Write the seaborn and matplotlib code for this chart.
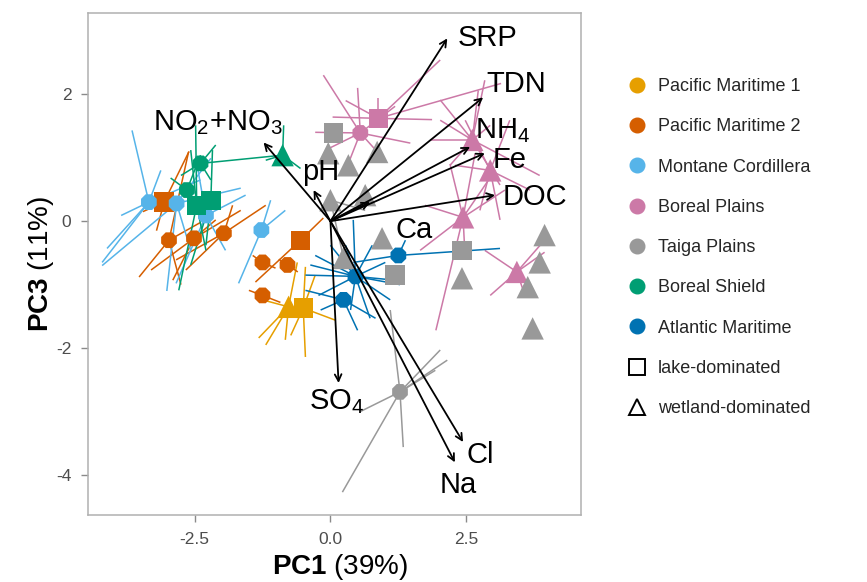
import matplotlib
matplotlib.use("Agg")
import matplotlib.pyplot as plt
import pandas as pd
import seaborn as sns
from matplotlib.lines import Line2D

# ---------------- data ----------------
zone_codes = ["PM1", "PM2", "MC", "BP", "TP", "BS", "AM"]
zone_labels = ["Pacific Maritime 1", "Pacific Maritime 2", "Montane Cordillera",
               "Boreal Plains", "Taiga Plains", "Boreal Shield", "Atlantic Maritime"]
zone_colors = ["#E69F00", "#D55E00", "#56B4E9", "#CC79A7", "#999999", "#009E73", "#0072B2"]

site_zone = ["PM1", "PM1",
             "PM2", "PM2", "PM2", "PM2", "PM2", "PM2", "PM2", "PM2",
             "MC", "MC", "MC", "MC",
             "BS", "BS", "BS", "BS", "BS",
             "BP", "BP", "BP", "BP", "BP", "BP",
             "TP", "TP", "TP", "TP", "TP", "TP", "TP", "TP", "TP", "TP", "TP", "TP", "TP", "TP",
             "AM", "AM", "AM",
             "TP", "TP"]
site_type = ["wetland", "lake",
             "lake", "other", "other", "other", "other", "other", "other", "lake",
             "other", "other", "other", "other",
             "other", "other", "lake", "lake", "wetland",
             "lake", "other", "wetland", "wetland", "wetland", "wetland",
             "lake", "lake", "lake", "wetland", "wetland", "wetland", "wetland", "wetland",
             "wetland", "wetland", "wetland", "wetland", "wetland", "other",
             "other", "other", "other",
             "wetland", "wetland"]
site_x = [-0.77, -0.50,
          -3.06, -2.97, -2.51, -1.96, -1.25, -0.79, -1.25, -0.55,
          -3.34, -2.83, -2.29, -1.27,
          -2.39, -2.64, -2.46, -2.20, -0.88,
          0.88, 0.55, 2.61, 2.94, 2.44, 3.43,
          0.06, 2.42, 1.19, -0.04, 0.33, 0.86, 0.00, 0.95, 2.42, 3.94, 3.85, 3.63, 3.72, 1.28,
          0.46, 0.24, 1.25,
          0.64, 0.24]
site_y = [-1.35, -1.37,
          0.30, -0.30, -0.27, -0.19, -0.65, -0.69, -1.17, -0.30,
          0.30, 0.28, 0.09, -0.14,
          0.91, 0.49, 0.25, 0.33, 1.04,
          1.62, 1.39, 1.28, 0.80, 0.06, -0.80,
          1.39, -0.46, -0.85, 1.07, 0.88, 1.09, 0.33, -0.27, -0.90, -0.22, -0.65, -1.04, -1.69, -2.69,
          -0.87, -1.24, -0.54,
          0.41, -0.58]

# spider segments: site index -> sample position
spider_site = ([0] * 5 + [1] * 5 + [2] * 3 + [3] * 4 + [4] * 4 + [5] * 4 + [6] * 2 + [7] * 2 +
               [8] * 2 + [9] * 2 + [10] * 6 + [11] * 5 + [12] * 4 + [13] * 3 + [14] * 4 +
               [15] * 3 + [16] * 4 + [17] * 3 + [18] * 3 + [19] * 6 + [20] * 8 + [21] * 9 +
               [22] * 6 + [23] * 8 + [24] * 5 + [31] * 2 + [38] * 7 + [39] * 14 + [40] * 4 + [41] * 3)
spider_x = [-0.61, -1.32, -1.19, -1.25, -0.83,
            -0.28, -0.46, -0.46, 0.09, -0.73,
            -2.60, -3.20, -3.45,
            -3.52, -2.39, -2.75, -2.61,
            -3.30, -1.65, -2.90, -2.11,
            -2.84, -1.19, -2.66, -1.80,
            -1.43, -1.01,
            -0.95, -0.60,
            -1.50, -0.92,
            -1.38, -0.13,
            -3.65, -4.20, -4.11, -3.12, -3.85, -2.39,
            -4.20, -3.01, -1.65, -2.20, -2.57,
            -2.48, -2.84, -1.56, -1.93,
            -1.69, -1.10, -0.83,
            -0.88, -2.11, -2.75, -2.20,
            -2.94, -2.39, -2.42,
            -2.79, -2.48, -2.29, -2.57,
            -2.17, -2.29, -2.57,
            -0.86, -0.55, -1.19,
            0.04, 2.02, 3.14, 1.87, 0.88, 0.28,
            -0.13, -0.09, 0.28, 1.47, 1.00, 0.50, -0.28, 1.19,
            2.84, 2.02, 3.12, 1.84, 2.94, 2.20, 2.72, 2.02, 3.85,
            3.67, 2.48, 3.30, 2.75, 2.29, 3.12,
            1.94, 2.20, 3.03, 1.65, 2.66, 2.48, 1.74, 3.21,
            2.84, 4.00, 2.94, 3.58, 3.94,
            0.64, 0.24,
            1.10, 0.22, 1.34, 0.55, 2.02, 2.15, 1.93,
            -0.28, -0.46, -0.22, 0.28, 1.01, 1.19, 1.10, 0.73, 0.77, 0.00, 0.37, 1.28, 0.42, -0.37,
            -0.46, 0.83, 0.50, -0.18,
            3.12, 0.42, 1.38]
spider_y = [-0.65, -1.84, -1.95, -1.24, -1.87,
            -0.85, -0.72, -2.14, -1.56, -1.80,
            1.10, -0.15, 0.15,
            -0.88, -0.02, -1.00, 1.09,
            -0.77, 0.17, -0.93, 0.02,
            -0.61, 0.25, -0.77, 0.25,
            -0.54, -0.74,
            -0.60, -0.80,
            -1.09, -1.28,
            -0.96, 0.05,
            1.43, -0.65, -0.43, 0.80, 0.09, 0.65,
            -0.70, -1.10, 0.52, 0.99, -0.46,
            1.02, -0.98, 0.41, -0.46,
            -0.98, 0.33, 0.17,
            1.04, 1.20, 0.72, 0.65,
            0.68, 1.04, 0.17,
            -1.09, 1.51, -0.46, 1.12,
            1.12, -0.38, -0.69,
            1.51, 0.83, 0.96,
            1.64, 2.54, 2.17, 1.60, 1.94, 1.90,
            2.30, 1.12, 0.80, 1.23, 0.96, 2.10, 1.40, 1.81,
            2.22, 1.91, 0.57, 1.28, 1.51, 0.88, 2.06, 1.59, 0.72,
            0.49, 1.59, 1.59, 0.17, 0.88, 0.02,
            -1.72, 0.90, 0.80, -0.46, 1.06, -0.61, 0.25, 0.49,
            -0.46, -0.24, -1.17, -1.17, -0.49,
            0.17, -0.57,
            -1.40, -4.27, -3.56, -3.00, -2.03, -2.19, -2.35,
            -0.54, -0.85, -1.17, -0.38, -0.65, -0.93, -1.24, -1.53, -0.38, -0.38, -1.40, -1.00, 0.02, -0.69,
            -1.09, -1.53, -1.72, -1.40,
            -0.43, -0.65, -0.30]

# loadings (arrows)
var_names = ["SRP", "TDN", "NH$_4$", "Fe", "DOC", "Ca", "pH", "NO$_2$+NO$_3$", "SO$_4$", "Cl", "Na"]
var_x = [2.15, 2.81, 2.57, 2.84, 3.03, 0.73, -0.31, -1.23, 0.15, 2.44, 2.29]
var_y = [2.88, 1.95, 1.17, 1.07, 0.41, 0.30, 0.49, 1.24, -2.55, -3.48, -3.80]
var_lab_x = [2.90, 3.41, 3.17, 3.30, 3.76, 1.54, -0.18, -2.07, 0.11, 2.75, 2.35]
var_lab_y = [2.88, 2.16, 1.43, 0.96, 0.38, -0.14, 0.77, 1.56, -2.85, -3.69, -4.16]

xticks = [-2.5, 0.0, 2.5]
xtick_labels = ["-2.5", "0.0", "2.5"]
yticks = [-4, -2, 0, 2]
ytick_labels = ["-4", "-2", "0", "2"]

# ---------------- style ----------------
sns.set_theme(style="white")
plt.rcParams['font.family'] = ['Liberation Sans', 'DejaVu Sans']
plt.rcParams['mathtext.fontset'] = 'custom'
plt.rcParams['mathtext.rm'] = 'Liberation Sans'
plt.rcParams['mathtext.it'] = 'Liberation Sans:italic'
plt.rcParams['mathtext.bf'] = 'Liberation Sans:bold'

color_of = dict(zip(zone_codes, zone_colors))
label_of = dict(zip(zone_codes, zone_labels))

fig = plt.figure(figsize=(8.67, 5.82), dpi=100)
W, H = 867, 582
ax = fig.add_axes([88 / W, 1 - 515 / H, (581 - 88) / W, (515 - 13) / H])

# spider lines
for s, ex, ey in zip(spider_site, spider_x, spider_y):
    ax.plot([site_x[s], ex], [site_y[s], ey], color=color_of[site_zone[s]],
            lw=1.1, zorder=1, solid_capstyle='butt')

df = pd.DataFrame({"PC1": site_x, "PC3": site_y,
                   "zone": [label_of[z] for z in site_zone], "type": site_type})
sns.scatterplot(data=df, x="PC1", y="PC3", hue="zone", hue_order=zone_labels,
                palette=zone_colors, style="type",
                markers={"lake": "s", "wetland": "^", "other": "8"},
                size="type", sizes={"lake": 195, "wetland": 260, "other": 150},
                linewidth=0, legend=False, ax=ax, zorder=2)

# arrows and labels
for name, vx, vy, lx, ly in zip(var_names, var_x, var_y, var_lab_x, var_lab_y):
    ax.annotate("", xy=(vx, vy), xytext=(0, 0),
                arrowprops=dict(arrowstyle="->", color="black", lw=1.3,
                                shrinkA=0, shrinkB=0, mutation_scale=12), zorder=3)
    ax.text(lx, ly, name, fontsize=21, ha="center", va="center", color="black", zorder=4)

ax.set_xlim(-4.46, 4.61)
ax.set_ylim(-4.63, 3.28)
ax.set_xticks(xticks)
ax.set_xticklabels(xtick_labels)
ax.set_yticks(yticks)
ax.set_yticklabels(ytick_labels)
ax.tick_params(axis="both", which="both", direction="out", length=5, width=1,
               color="#8A8A8A", labelcolor="#4D4D4D", labelsize=12.5, pad=7,
               bottom=True, left=True)
for sp in ax.spines.values():
    sp.set_color("#B0B0B0")
    sp.set_linewidth(1.1)
ax.grid(False)

ax.set_xlabel(r"$\mathbf{PC1}$ (39%)", fontsize=20, color="black")
ax.set_ylabel(r"$\mathbf{PC3}$ (11%)", fontsize=20, color="black")
ax.xaxis.set_label_coords((340 - 88) / 493, -(552 - 515) / 502)
ax.yaxis.set_label_coords(-(88 - 56) / 493, 0.5)

# legend
handles = [Line2D([], [], ls="", marker="o", markersize=10.5, markerfacecolor=c,
                  markeredgecolor=c) for c in zone_colors]
handles += [Line2D([], [], ls="", marker="s", markersize=11, markerfacecolor="white",
                   markeredgecolor="black", markeredgewidth=1.4),
            Line2D([], [], ls="", marker="^", markersize=12, markerfacecolor="white",
                   markeredgecolor="black", markeredgewidth=1.4)]
labels = zone_labels + ["lake-dominated", "wetland-dominated"]
fig.legend(handles, labels, loc="upper left", bbox_to_anchor=(628 / W, 1 - 78 / H),
           frameon=False, fontsize=13, handlelength=1.0, handletextpad=0.65,
           labelspacing=1.29, borderpad=0, borderaxespad=0)

fig.savefig("out.png", dpi=100)
